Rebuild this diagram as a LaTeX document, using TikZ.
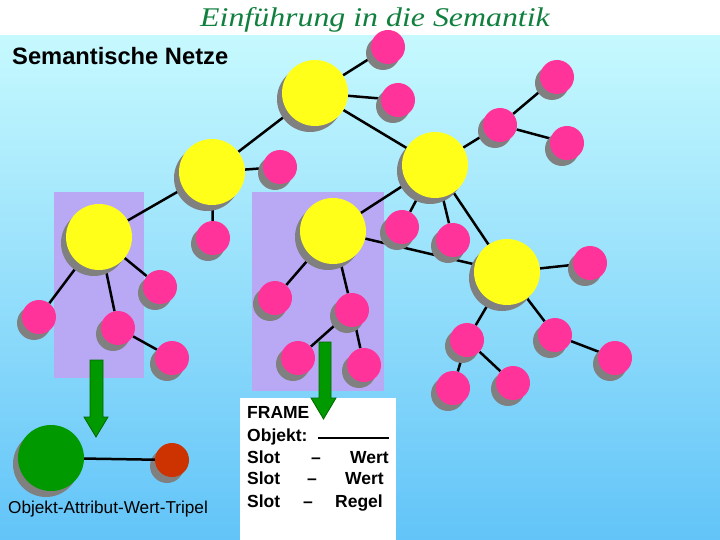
\documentclass[tikz,border=0pt]{standalone}
\usepackage{fontspec}
\setmainfont{Liberation Sans}
\newfontfamily\titlefont{Liberation Serif}
\usetikzlibrary{shadows,positioning}
\definecolor{netzyellow}{HTML}{FFFF1A}
\definecolor{netzpink}{HTML}{FF3399}
\definecolor{netzshadow}{HTML}{808080}
\definecolor{framelila}{HTML}{B9A9F5}
\definecolor{skytop}{HTML}{C6F9FE}
\definecolor{skybottom}{HTML}{62C4F8}
\definecolor{titlegreen}{HTML}{10803E}
\definecolor{tripelgreen}{HTML}{009900}
\definecolor{tripelred}{HTML}{CC3300}
\pgfdeclarelayer{bg}
\pgfdeclarelayer{edges}
\pgfsetlayers{bg,edges,main}
\tikzset{
  shadowed/.style={circle,inner sep=0pt,
    drop shadow={shadow xshift=-5pt,shadow yshift=-6pt,fill=netzshadow,opacity=1}},
  konzept/.style={shadowed,fill=netzyellow,minimum size=66pt},
  attribut/.style={shadowed,fill=netzpink,minimum size=34pt},
  kante/.style={line width=2.5pt,black},
  blockpfeil/.style={fill=tripelgreen,draw=black!60!green,line width=0.8pt},
  frametext/.style={font=\fontsize{17.5}{20}\selectfont\bfseries,anchor=base west,inner sep=0pt},
}
\begin{document}
\begin{tikzpicture}[x=1pt,y=-1pt]
  \useasboundingbox (0,0) rectangle (720,540);
  \begin{pgfonlayer}{bg}
    \fill[white] (0,0) rectangle (720,36);
    \shade[top color=skytop,bottom color=skybottom] (0,36) rectangle (720,540);
    \fill[framelila] (54,192) rectangle (144,378);
    \fill[framelila] (252,192) rectangle (384,391);
  \end{pgfonlayer}
  % Titel
  \node[font=\titlefont\itshape\fontsize{27}{30}\selectfont,text=titlegreen,
    xscale=1.18,transform shape] (titel) at (375,20) {Einführung in die Semantik};
  \node[font=\fontsize{23.7}{26}\selectfont\bfseries,anchor=base west,inner sep=0pt] (ueberschrift) at (12,65) {Semantische Netze};
  % Konzepte
  \node[konzept] (k1) at (315,93) {};
  \node[konzept] (k2) at (212,172) {};
  \node[konzept] (k3) at (99,237) {};
  \node[konzept] (k4) at (333,231) {};
  \node[konzept] (k5) at (435,165) {};
  \node[konzept] (k6) at (507,272) {};
  % Attribute
  \node[attribut] (p1) at (388,47) {};
  \node[attribut] (p2) at (398,100) {};
  \node[attribut] (p3) at (280,167) {};
  \node[attribut] (p4) at (213,238) {};
  \node[attribut] (p5) at (160,287) {};
  \node[attribut] (p6) at (39,317) {};
  \node[attribut] (p7) at (118,328) {};
  \node[attribut] (p8) at (172,358) {};
  \node[attribut] (p9) at (275,298) {};
  \node[attribut] (p10) at (352,310) {};
  \node[attribut] (p11) at (298,358) {};
  \node[attribut] (p12) at (364,365) {};
  \node[attribut] (p13) at (402,227) {};
  \node[attribut] (p14) at (453,240) {};
  \node[attribut] (p15) at (500,125) {};
  \node[attribut] (p16) at (557,77) {};
  \node[attribut] (p17) at (567,143) {};
  \node[attribut] (p18) at (590,263) {};
  \node[attribut] (p19) at (467,340) {};
  \node[attribut] (p20) at (555,335) {};
  \node[attribut] (p21) at (615,358) {};
  \node[attribut] (p22) at (453,388) {};
  \node[attribut] (p23) at (513,383) {};
  \begin{pgfonlayer}{edges}
    \foreach \a/\b in {k1/p1,k1/p2,k1/k2,k1/k5,k2/p3,k2/p4,k2/k3,
      k3/p5,k3/p6,k3/p7,p7/p8,k4/k5,k4/k6,k4/p9,k4/p10,p10/p11,p10/p12,
      k5/p13,k5/p14,k5/p15,k5/k6,p15/p16,p15/p17,k6/p18,k6/p19,k6/p20,
      p19/p22,p19/p23,p20/p21}
      \draw[kante] (\a) -- (\b);
  \end{pgfonlayer}
  % Tripel
  \node[shadowed,fill=tripelgreen,minimum size=66pt] (objekt) at (51,458) {};
  \node[shadowed,fill=tripelred,minimum size=34pt] (wert) at (172,460) {};
  \draw[kante] (objekt) -- (wert);
  \node[font=\fontsize{17.2}{19}\selectfont,anchor=base,inner sep=0pt] (tripel) at (108,513) {Objekt-Attribut-Wert-Tripel};
  % Frame
  \fill[white] (240,398) rectangle (396,540);
  \node[frametext] (frame) at (247,418) {FRAME};
  \node[frametext] (objektzeile) at (247,441) {Objekt:};
  \coordinate (strichA) at (318,438);
  \coordinate (strichB) at (389,438);
  \draw[line width=2.5pt] (strichA) -- (strichB);
  \node[frametext] (slotA) at (247,463) {Slot};
  \node[frametext,anchor=base] (dashA) at (316,463) {--};
  \node[frametext,anchor=base east] (wertA) at (389,463) {Wert};
  \node[frametext] (slotB) at (247,484) {Slot};
  \node[frametext,anchor=base] (dashB) at (312,484) {--};
  \node[frametext,anchor=base east] (wertB) at (384,484) {Wert};
  \node[frametext] (slotC) at (247,507) {Slot};
  \node[frametext,anchor=base] (dashC) at (308,507) {--};
  \node[frametext,anchor=base east] (regel) at (383,507) {Regel};
  % Pfeile
  \draw[blockpfeil] (90,360) -- (103,360) -- (103,417) -- (108,417) -- (96,437)
    -- (84,417) -- (90,417) -- cycle;
  \draw[blockpfeil] (319,342) -- (331,342) -- (331,398) -- (336,398) -- (323.5,419)
    -- (311,398) -- (319,398) -- cycle;
\end{tikzpicture}
\end{document}
